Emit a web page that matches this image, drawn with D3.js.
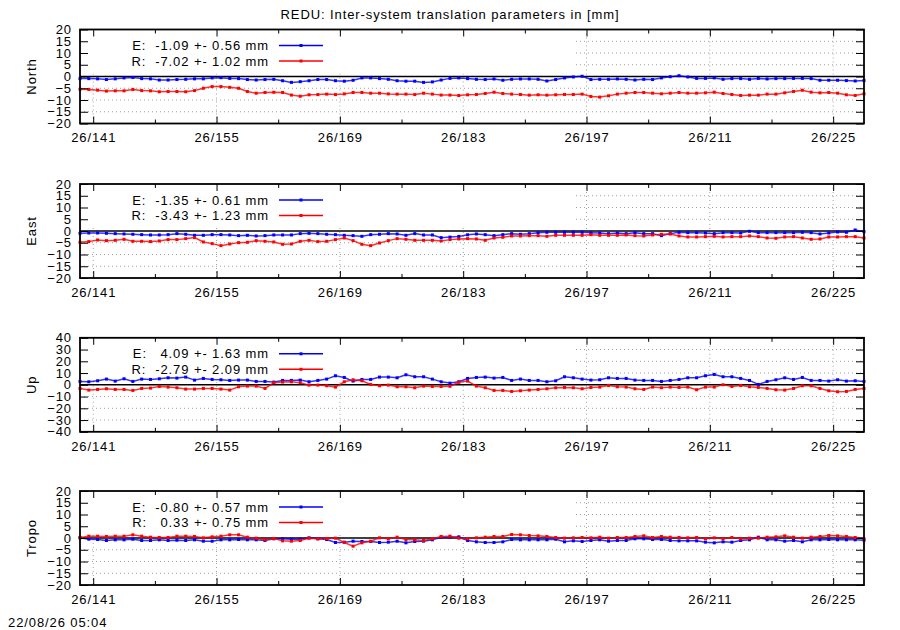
<!DOCTYPE html>
<html>
<head>
<meta charset="utf-8">
<script src="https://cdn.jsdelivr.net/npm/d3@7"></script>
<style>
    body { margin: 0; background: #fff; }
    svg text { font-family: "Liberation Sans", Arial, sans-serif; font-size: 13px; letter-spacing: 0.9px; fill: #000; }
</style>
</head>
<body>
<div id="chart"></div>
<script>
// epochs (day of year, 12:00) of the daily solutions
const epochs = [
    139.5, 140.5, 141.5, 142.5, 143.5, 144.5, 145.5, 146.5, 147.5, 148.5,
    149.5, 150.5, 151.5, 152.5, 153.5, 154.5, 155.5, 156.5, 157.5, 158.5,
    159.5, 160.5, 161.5, 162.5, 163.5, 164.5, 165.5, 166.5, 167.5, 168.5,
    169.5, 170.5, 171.5, 172.5, 173.5, 174.5, 175.5, 176.5, 177.5, 178.5,
    179.5, 180.5, 181.5, 182.5, 183.5, 184.5, 185.5, 186.5, 187.5, 188.5,
    189.5, 190.5, 191.5, 192.5, 193.5, 194.5, 195.5, 196.5, 197.5, 198.5,
    199.5, 200.5, 201.5, 202.5, 203.5, 204.5, 205.5, 206.5, 207.5, 208.5,
    209.5, 210.5, 211.5, 212.5, 213.5, 214.5, 215.5, 216.5, 217.5, 218.5,
    219.5, 220.5, 221.5, 222.5, 223.5, 224.5, 225.5, 226.5, 227.5, 228.5
];

const xTickDays = [141, 155, 169, 183, 197, 211, 225];
const xTickLabels = ["26/141", "26/155", "26/169", "26/183", "26/197", "26/211", "26/225"];
const xMinorDays = [148, 162, 176, 190, 204, 218];

const panelNames = ["North", "East", "Up", "Tropo"];
const yTicks20 = [-20, -15, -10, -5, 0, 5, 10, 15, 20];
const yTicks40 = [-40, -30, -20, -10, 0, 10, 20, 30, 40];

const legendE = ["E:  -1.09 +- 0.56 mm", "E:  -1.35 +- 0.61 mm", "E:   4.09 +- 1.63 mm", "E:  -0.80 +- 0.57 mm"];
const legendR = ["R:  -7.02 +- 1.02 mm", "R:  -3.43 +- 1.23 mm", "R:  -2.79 +- 2.09 mm", "R:   0.33 +- 0.75 mm"];

const titleText = "REDU: Inter-system translation parameters in [mm]";
const stampText = "22/08/26 05:04";

// series, mm
const northE = [
    -0.9, -0.9, -1.0, -1.3, -1.0, -0.6, -0.4, -0.9, -1.0, -1.5,
    -1.5, -1.3, -1.2, -1.0, -1.0, -0.6, -0.5, -0.8, -0.9, -1.3,
    -1.5, -1.3, -1.2, -1.8, -2.5, -2.2, -1.8, -1.3, -1.3, -1.8,
    -2.0, -1.6, -0.6, -0.6, -0.9, -1.2, -1.8, -2.0, -2.0, -2.5,
    -2.3, -1.5, -0.8, -0.6, -0.9, -1.2, -1.3, -1.05, -1.6, -1.2,
    -1.05, -1.05, -1.2, -1.9, -1.3, -0.6, -0.2, 0.1, -1.3, -1.2,
    -1.2, -1.05, -1.2, -1.5, -1.2, -1.3, -0.6, -0.1, 0.35, -0.2,
    -0.8, -0.8, -0.6, -1.2, -0.9, -0.9, -1.2, -0.8, -1.05, -0.9,
    -0.9, -0.8, -0.8, -0.9, -1.6, -1.6, -1.6, -1.75, -1.9, -1.75
];
const northR = [
    -5.4, -5.5, -5.8, -6.2, -6.1, -6.1, -5.5, -6.0, -6.1, -6.5,
    -6.4, -6.4, -6.5, -6.0, -5.0, -4.3, -4.3, -4.6, -5.0, -6.4,
    -7.1, -6.8, -6.7, -6.8, -7.9, -8.4, -7.8, -7.7, -7.5, -7.7,
    -7.4, -6.8, -6.8, -7.1, -7.1, -7.4, -7.5, -7.5, -7.7, -7.1,
    -7.5, -7.9, -7.9, -8.1, -7.8, -7.65, -7.23, -6.67, -7.23, -7.5,
    -7.65, -7.93, -7.79, -7.93, -7.79, -7.65, -7.65, -7.5, -8.49, -8.77,
    -8.21, -7.5, -7.09, -6.81, -6.81, -7.09, -7.37, -7.09, -6.81, -7.09,
    -7.09, -6.95, -6.67, -7.23, -7.65, -8.07, -7.93, -7.93, -7.5, -7.5,
    -6.95, -6.39, -5.82, -6.67, -6.95, -6.81, -7.09, -7.79, -8.07, -7.37
];
const eastE = [
    -0.98, -0.84, -0.84, -0.98, -1.12, -1.26, -1.40, -1.55, -1.69, -1.69,
    -1.55, -1.12, -1.40, -1.83, -1.83, -1.55, -1.55, -1.69, -1.97, -1.83,
    -2.11, -1.97, -1.69, -1.69, -1.69, -1.12, -0.98, -1.12, -1.40, -1.55,
    -1.83, -1.97, -2.26, -1.55, -1.40, -1.12, -1.26, -1.83, -1.12, -1.69,
    -1.69, -2.82, -2.60, -2.30, -1.62, -1.26, -1.55, -1.97, -1.55, -1.12,
    -1.40, -1.12, -0.70, -0.55, -0.55, -0.55, -0.55, -0.55, -0.70, -0.84,
    -1.12, -0.84, -1.12, -0.70, -1.12, -1.12, -1.97, -1.12, -0.55, -0.70,
    -0.70, -0.84, -1.12, -0.70, -0.70, -0.84, -0.13, -0.70, -0.70, -0.70,
    -0.70, -0.70, -0.55, -0.70, -1.26, -0.84, -0.41, -0.55, 0.44, -0.27
];
const eastR = [
    -4.81, -4.52, -3.82, -4.10, -3.96, -3.53, -4.38, -4.38, -4.52, -4.24,
    -3.67, -3.67, -3.25, -2.82, -4.67, -5.37, -6.23, -5.52, -4.95, -4.81,
    -4.10, -4.38, -4.67, -5.66, -5.52, -4.38, -3.96, -4.52, -4.38, -3.67,
    -2.97, -4.10, -5.66, -6.23, -5.09, -4.10, -3.25, -3.53, -3.96, -3.96,
    -3.96, -4.24, -3.67, -3.39, -3.25, -3.39, -3.96, -2.97, -2.68, -2.11,
    -2.11, -1.97, -1.97, -2.26, -1.83, -1.83, -1.83, -1.83, -1.55, -1.83,
    -1.83, -1.83, -1.69, -1.97, -2.11, -1.69, -1.40, -1.26, -2.11, -2.54,
    -2.54, -2.40, -2.26, -2.54, -2.40, -2.40, -2.11, -2.40, -2.97, -3.11,
    -2.54, -2.40, -2.97, -3.53, -3.39, -2.54, -2.54, -2.40, -2.40, -2.97
];
const upE = [
    2.87, 2.58, 3.43, 4.85, 3.15, 5.13, 2.87, 4.85, 4.57, 5.13,
    5.98, 5.70, 6.55, 4.00, 5.42, 4.57, 4.28, 3.72, 4.00, 4.00,
    2.87, 2.87, 2.30, 3.72, 3.72, 4.00, 2.58, 3.72, 4.85, 7.69,
    6.27, 3.15, 4.57, 4.57, 6.55, 6.55, 5.98, 8.54, 6.84, 6.84,
    4.85, 2.58, 1.45, 2.58, 5.42, 6.27, 6.55, 5.70, 6.27, 3.72,
    4.85, 3.72, 3.72, 2.58, 3.43, 6.84, 5.98, 4.85, 4.00, 4.28,
    5.98, 5.42, 5.42, 4.00, 3.72, 3.72, 2.87, 3.72, 4.57, 5.98,
    5.98, 7.69, 8.83, 6.84, 6.84, 5.42, 3.72, 0.31, 2.87, 4.28,
    5.98, 4.57, 6.27, 3.72, 3.72, 3.15, 4.28, 3.15, 3.43, 2.87
];
const upR = [
    -3.09, -4.51, -3.94, -3.38, -3.94, -3.94, -4.79, -3.09, -2.81, -1.39,
    -1.96, -2.53, -3.66, -3.66, -3.09, -3.09, -3.66, -4.51, -1.68, -1.11,
    -1.11, -3.09, 1.73, 2.30, 2.58, 1.73, -0.26, -0.26, -0.82, -1.96,
    2.58, 4.28, 3.43, 0.31, -0.82, -0.26, -1.68, -1.68, -2.53, -1.11,
    -1.39, -1.39, -1.25, 2.15, 3.15, -1.11, -2.53, -4.79, -4.79, -5.64,
    -5.08, -4.51, -3.94, -3.38, -2.53, -2.24, -2.53, -3.38, -2.24, -1.96,
    -0.54, -1.68, -1.96, -3.38, -3.94, -1.96, -2.53, -1.96, -2.24, -1.96,
    -4.23, -1.96, -1.96, 0.03, -1.39, -0.54, -1.68, -2.24, -3.09, -4.23,
    -4.51, -3.09, -0.82, -0.82, -3.09, -5.08, -5.93, -5.64, -3.94, -3.09
];
const tropoE = [
    0.07, -0.50, -0.64, -1.06, -0.78, -0.78, -0.50, -1.06, -1.06, -0.78,
    -1.06, -0.92, -1.06, -0.78, -1.35, -1.35, -0.78, -0.78, -0.64, -0.78,
    -0.78, -1.06, -0.35, -0.35, -0.50, -0.50, 0.07, -0.35, -0.64, -1.91,
    -1.77, -1.35, -1.49, -1.49, -1.91, -1.77, -1.35, -2.06, -1.49, -1.35,
    -0.78, 0.35, 0.35, 0.50, -1.06, -1.63, -1.91, -1.91, -1.63, -0.64,
    -0.78, -0.78, -0.78, -0.78, -0.50, -1.63, -1.21, -1.49, -1.06, -0.78,
    -1.35, -1.06, -1.06, -0.35, -0.35, -0.64, -0.64, -1.06, -1.21, -1.21,
    -1.21, -1.77, -2.06, -1.63, -1.77, -1.06, -0.78, 0.35, -0.78, -0.78,
    -1.35, -1.06, -1.63, -0.78, -0.78, -0.64, -0.78, -0.78, -0.78, -0.92
];
const tropoR = [
    0.21, 0.78, 0.78, 0.64, 0.78, 0.78, 1.35, 0.78, 0.35, 0.21,
    0.21, 0.78, 0.78, 0.64, 0.07, 0.50, 0.78, 1.35, 1.35, 0.35,
    -0.07, -0.78, -0.21, -1.21, -1.35, -1.06, -0.07, -0.35, -0.21, -0.07,
    -1.91, -3.48, -2.06, -1.35, 0.07, -0.35, 0.35, -0.64, -0.78, -1.06,
    -0.35, 0.64, 0.78, -0.07, -0.35, 0.07, 0.35, 0.64, 0.64, 1.49,
    1.35, 1.06, 0.92, 0.64, 0.21, -0.07, 0.07, 0.21, 0.07, 0.35,
    -0.07, 0.21, 0.21, 0.64, 0.92, 0.21, 0.64, 0.35, 0.21, 0.07,
    0.21, -0.35, 0.07, -0.35, 0.21, -0.35, -0.07, -0.07, 0.35, 0.50,
    0.92, 0.35, -0.07, 0.35, 0.64, 1.06, 0.92, 0.64, 0.21, -0.35
];

const panels = [
    {name: panelNames[0], ticks: yTicks20, e: northE, r: northR, le: legendE[0], lr: legendR[0]},
    {name: panelNames[1], ticks: yTicks20, e: eastE, r: eastR, le: legendE[1], lr: legendR[1]},
    {name: panelNames[2], ticks: yTicks40, e: upE, r: upR, le: legendE[2], lr: legendR[2]},
    {name: panelNames[3], ticks: yTicks20, e: tropoE, r: tropoR, le: legendE[3], lr: legendR[3]}
];

// layout
const width = 900, height = 630;
const plotLeft = 80, plotRight = 864;
const panelTop = [29.5, 184, 337.8, 491];
const panelHeight = 94;
const blue = "#0000ff", red = "#ff0000";

const svg = d3.select("#chart")
    .append("svg")
    .attr("width", width)
    .attr("height", height);

const x = d3.scaleLinear()
    .domain(d3.extent(epochs))
    .range([plotLeft, plotRight]);

svg.append("text")
    .attr("x", 450)
    .attr("y", 19)
    .attr("text-anchor", "middle")
    .text(titleText);

svg.append("text")
    .attr("x", 8)
    .attr("y", 627)
    .text(stampText);

function drawSeries(g, y, values, color) {
    const pts = values.map((v, i) => [epochs[i], v]);
    g.append("path")
        .datum(pts)
        .attr("fill", "none")
        .attr("stroke", color)
        .attr("stroke-opacity", 0.8)
        .attr("stroke-width", 1.5)
        .attr("d", d3.line().x(d => x(d[0])).y(d => y(d[1])));
    g.selectAll(null)
        .data(pts)
        .join("rect")
        .attr("x", d => x(d[0]) - 1.5)
        .attr("y", d => y(d[1]) - 1.5)
        .attr("width", 3)
        .attr("height", 3)
        .attr("fill", color);
}

function legendRow(g, yPos, label, color) {
    g.append("text")
        .attr("x", 269)
        .attr("y", yPos)
        .attr("dy", "0.35em")
        .attr("text-anchor", "end")
        .attr("xml:space", "preserve")
        .style("white-space", "pre")
        .text(label);
    g.append("line")
        .attr("x1", 279).attr("x2", 323)
        .attr("y1", yPos).attr("y2", yPos)
        .attr("stroke", color)
        .attr("stroke-width", 1.5);
    g.append("rect")
        .attr("x", 299.5).attr("y", yPos - 1.5)
        .attr("width", 3).attr("height", 3)
        .attr("fill", color);
}

panels.forEach((p, k) => {
    const top = panelTop[k];
    const bottom = top + panelHeight;
    const yMax = d3.max(p.ticks);
    const y = d3.scaleLinear()
        .domain([-yMax, yMax])
        .range([bottom, top]);

    const g = svg.append("g");

    // dotted grid
    g.selectAll(null)
        .data(p.ticks.filter(t => t !== 0 && Math.abs(t) !== yMax))
        .join("line")
        .attr("x1", plotLeft).attr("x2", plotRight)
        .attr("y1", d => y(d)).attr("y2", d => y(d))
        .attr("stroke", "#a0a0a0")
        .attr("stroke-dasharray", "1,3");
    g.selectAll(null)
        .data(xTickDays)
        .join("line")
        .attr("x1", d => x(d)).attr("x2", d => x(d))
        .attr("y1", top).attr("y2", bottom)
        .attr("stroke", "#a0a0a0")
        .attr("stroke-dasharray", "1,3");

    // opaque key area
    g.append("rect")
        .attr("x", plotLeft + 1)
        .attr("y", top + 1)
        .attr("width", 492)
        .attr("height", 43)
        .attr("fill", "#fff");

    // zero line
    g.append("line")
        .attr("x1", plotLeft).attr("x2", plotRight)
        .attr("y1", y(0)).attr("y2", y(0))
        .attr("stroke", "#000")
        .attr("stroke-width", 1.4);

    drawSeries(g, y, p.e, blue);
    drawSeries(g, y, p.r, red);

    legendRow(g, top + 16, p.le, blue);
    legendRow(g, top + 31.5, p.lr, red);

    // axes, ticks pointing inward
    const xAxis = g.append("g")
        .attr("transform", `translate(0,${bottom})`)
        .call(d3.axisBottom(x).tickValues(xTickDays)
            .tickFormat((d, i) => xTickLabels[i])
            .tickSizeInner(-7).tickSizeOuter(0).tickPadding(9.5));
    g.append("g")
        .attr("transform", `translate(0,${bottom})`)
        .call(d3.axisBottom(x).tickValues(xMinorDays).tickFormat("").tickSize(-4));
    g.append("g")
        .attr("transform", `translate(0,${top})`)
        .call(d3.axisTop(x).tickValues(xTickDays).tickFormat("").tickSize(-7));
    g.append("g")
        .attr("transform", `translate(0,${top})`)
        .call(d3.axisTop(x).tickValues(xMinorDays).tickFormat("").tickSize(-4));
    g.append("g")
        .attr("transform", `translate(${plotLeft},0)`)
        .call(d3.axisLeft(y).tickValues(p.ticks).tickSizeInner(-8).tickSizeOuter(0).tickPadding(8));
    g.append("g")
        .attr("transform", `translate(${plotRight},0)`)
        .call(d3.axisRight(y).tickValues(p.ticks).tickFormat("").tickSize(-8));

    g.selectAll(".domain").remove();
    g.selectAll(".tick line").attr("stroke", "#000");
    g.selectAll(".tick text")
        .attr("fill", "#000")
        .style("font-family", "'Liberation Sans', Arial, sans-serif")
        .style("font-size", "13px");

    g.append("rect")
        .attr("x", plotLeft).attr("y", top)
        .attr("width", plotRight - plotLeft)
        .attr("height", panelHeight)
        .attr("fill", "none")
        .attr("stroke", "#000")
        .attr("stroke-width", 1.8);

    g.append("text")
        .attr("transform", `translate(36,${(top + bottom) / 2}) rotate(-90)`)
        .attr("text-anchor", "middle")
        .text(p.name);
});
</script>
</body>
</html>
